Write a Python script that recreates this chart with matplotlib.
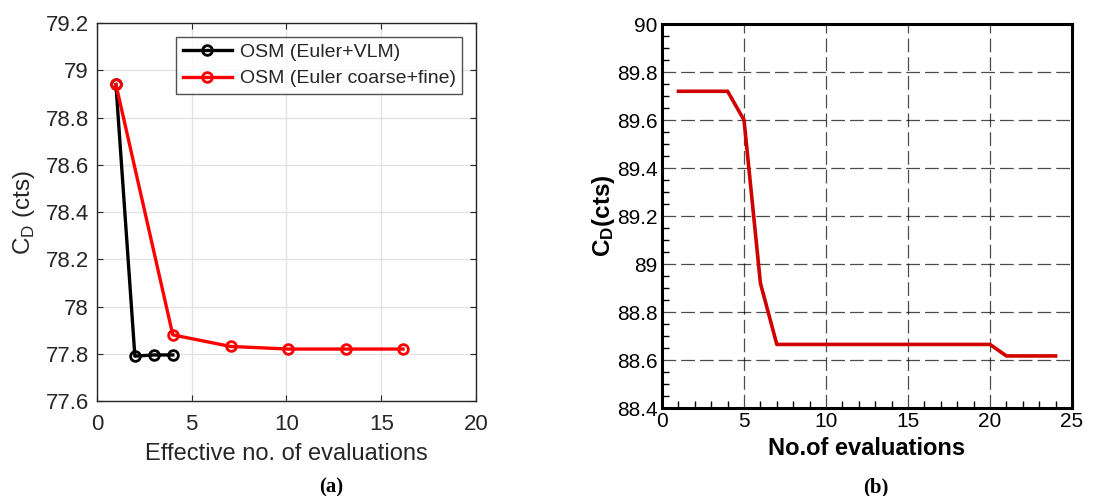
import numpy as np
import matplotlib
matplotlib.use('Agg')
import matplotlib.pyplot as plt
from matplotlib.ticker import MultipleLocator

plt.rcParams['font.family'] = ['Liberation Sans', 'DejaVu Sans']
plt.rcParams['mathtext.fontset'] = 'custom'
plt.rcParams['mathtext.rm'] = 'Liberation Sans'
plt.rcParams['mathtext.bf'] = 'Liberation Sans:bold'

# (a) effective evaluations vs drag
vlm_x = [1, 2, 3, 4]
vlm_cd = [78.94, 77.79, 77.795, 77.795]
fine_x = [1, 4, 7.05, 10.1, 13.15, 16.15]
fine_cd = [78.94, 77.88, 77.831, 77.82, 77.82, 77.82]

# (b) evaluations vs drag
eval_x = [1, 4, 5, 6, 7, 20, 21, 24]
eval_cd = [89.72, 89.72, 89.60, 88.92, 88.665, 88.665, 88.617, 88.617]

fig = plt.figure(figsize=(10.97, 4.96), dpi=100)

# ---- left panel, matlab look
grey = '#262626'
ax = fig.add_axes([0.0884, 0.1915, 0.3455, 0.762])
ax.plot(vlm_x, vlm_cd, '-o', color='black', lw=2.4, ms=7, mfc='none', mew=2.0,
        label='OSM (Euler+VLM)')
ax.plot(fine_x, fine_cd, '-o', color='#ff0000', lw=2.4, ms=7, mfc='none', mew=2.0,
        label='OSM (Euler coarse+fine)')
ax.set_xlim(0, 20)
ax.set_ylim(77.6, 79.2)
ax.set_xticks([0, 5, 10, 15, 20])
ax.set_yticks([77.6, 77.8, 78, 78.2, 78.4, 78.6, 78.8, 79, 79.2])
ax.set_yticklabels(['77.6', '77.8', '78', '78.2', '78.4', '78.6', '78.8', '79', '79.2'])
ax.grid(True, color='#e3e3e3', lw=1.0)
ax.set_axisbelow(True)
for s in ax.spines.values():
    s.set_color(grey)
    s.set_linewidth(1.0)
ax.tick_params(direction='in', top=True, right=True, length=4, color=grey,
               labelcolor=grey, labelsize=16, pad=6)
ax.tick_params(axis='x', pad=9)
ax.set_xlabel('Effective no. of evaluations', fontsize=17, color=grey, labelpad=6)
ax.set_ylabel(r'C$_\mathregular{D}$ (cts)', fontsize=17.5, color=grey, labelpad=6)
leg = ax.legend(loc='upper right', fontsize=14, frameon=True, fancybox=False,
                edgecolor=grey, handlelength=2.5, borderaxespad=0.7,
                labelspacing=0.45, handletextpad=0.4, borderpad=0.35)
leg.get_frame().set_linewidth(1.0)
for t in leg.get_texts():
    t.set_color(grey)

# ---- right panel, tecplot look
bx = fig.add_axes([0.6035, 0.1774, 0.3737, 0.774])
bx.plot(eval_x, eval_cd, '-', color='#d00000', lw=2.6)
bx.set_xlim(0, 25)
bx.set_ylim(88.4, 90)
bx.set_xticks([0, 5, 10, 15, 20, 25])
bx.set_yticks([88.4, 88.6, 88.8, 89, 89.2, 89.4, 89.6, 89.8, 90])
bx.set_yticklabels(['88.4', '88.6', '88.8', '89', '89.2', '89.4', '89.6', '89.8', '90'])
bx.xaxis.set_minor_locator(MultipleLocator(1))
bx.yaxis.set_minor_locator(MultipleLocator(0.05))
bx.grid(True, which='major', color='black', ls=(0, (11, 4)), lw=0.9, alpha=0.7)
for s in bx.spines.values():
    s.set_linewidth(2.2)
bx.tick_params(which='both', direction='in', top=False, right=False, width=1.0)
bx.tick_params(which='major', length=0, labelsize=15, pad=3)
bx.tick_params(which='minor', length=5)
bx.set_xlabel('No.of evaluations', fontsize=17, fontweight='bold', labelpad=4)
bx.set_ylabel(r'$\mathbf{C_D}$(cts)', fontsize=17.5, fontweight='bold', labelpad=0)

fig.text(0.302, 0.008, '(a)', fontsize=15, fontweight='bold', family='Liberation Serif',
         ha='center')
fig.text(0.798, 0.008, '(b)', fontsize=15, fontweight='bold', family='Liberation Serif',
         ha='center')

fig.savefig('out.png', dpi=100)
